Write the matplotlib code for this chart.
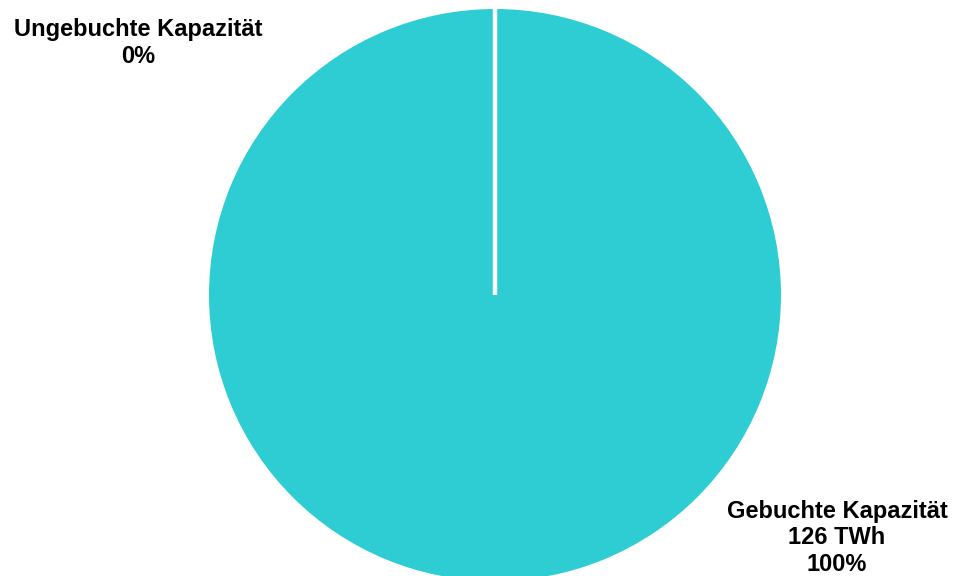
import matplotlib
matplotlib.use('Agg')
import matplotlib.pyplot as plt

plt.rcParams['font.family'] = ['Liberation Sans', 'DejaVu Sans']

labels = ['Ungebuchte Kapazität', 'Gebuchte Kapazität']
values_twh = [0, 126]
total = sum(values_twh)

fig = plt.figure(figsize=(9.56, 5.76), dpi=100)
ax = fig.add_axes([0, 0, 1, 1])

wedges, _ = ax.pie(values_twh, colors=['#2DCDD3', '#2DCDD3'], startangle=90,
                   counterclock=False, radius=1.0)

# the empty slice shows only as a white separator line
wedges[0].set_edgecolor('white')
wedges[0].set_linewidth(3.2)
wedges[0].set_zorder(5)

# pie center sits at pixel (495, 295) with radius 286 px
ax.set_aspect('auto')
ax.set_xlim(-495 / 286, (956 - 495) / 286)
ax.set_ylim(-(576 - 295) / 286, 295 / 286)
ax.axis('off')

pct = [v / total * 100 for v in values_twh]
fig.text(138 / 956, 1 - 43 / 576, f'{labels[0]}\n{pct[0]:.0f}%',
         ha='center', va='center', fontsize=17, fontweight='bold',
         linespacing=1.25)
fig.text(837 / 956, 1 - 538 / 576,
         f'{labels[1]}\n{values_twh[1]} TWh\n{pct[1]:.0f}%',
         ha='center', va='center', fontsize=17, fontweight='bold',
         linespacing=1.2)

fig.savefig('out.png', dpi=100)
